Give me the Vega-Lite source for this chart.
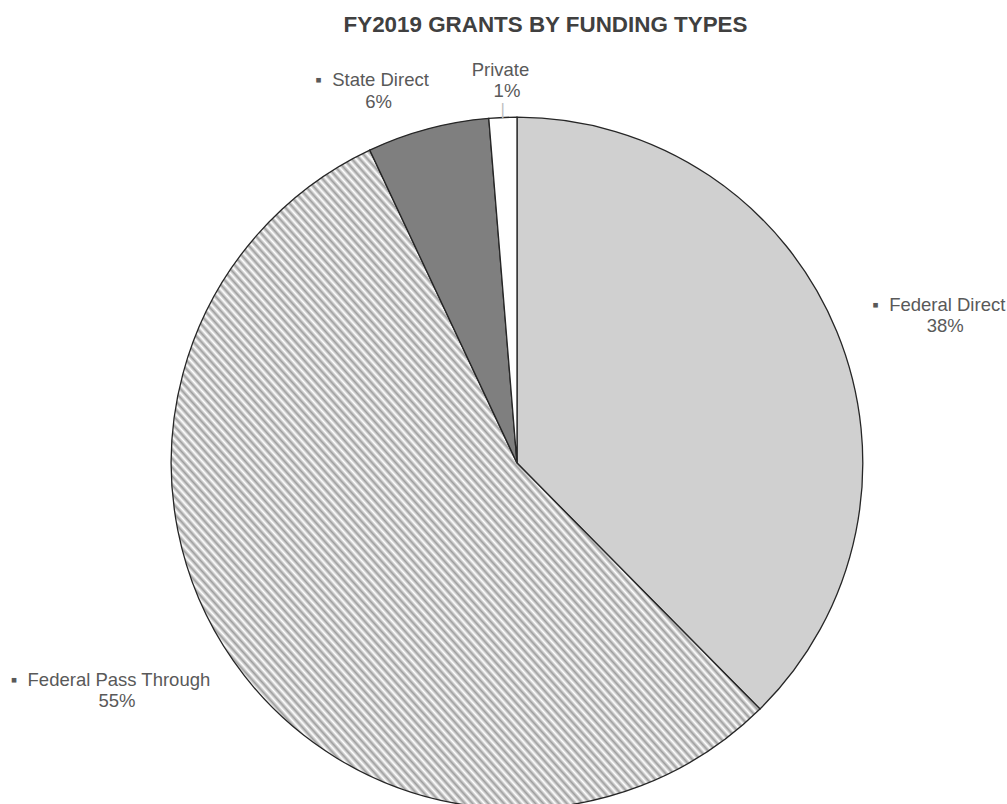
{
  "$schema": "https://vega.github.io/schema/vega-lite/v6.json",
  "width": 980,
  "height": 682,
  "autosize": {"type": "none"},
  "padding": {"left": 27, "top": 122, "right": 0, "bottom": 0},
  "background": "white",
  "config": {"view": {"stroke": null}, "font": "Liberation Sans"},
  "title": {
    "text": "FY2019 GRANTS BY FUNDING TYPES",
    "font": "Liberation Sans",
    "fontSize": 22.4,
    "fontWeight": "bold",
    "color": "#404040",
    "anchor": "middle",
    "frame": "group",
    "offset": 0,
    "baseline": "alphabetic",
    "dx": 28.5,
    "dy": -6
  },
  "data": {
    "values": [
      {"type": "Federal Direct", "value": 0.376},
      {"type": "Federal Pass Through", "value": 0.554},
      {"type": "State Direct", "value": 0.057},
      {"type": "Private", "value": 0.013}
    ]
  },
  "transform": [
    {"window": [{"op": "row_number", "as": "rank"}]},
    {"calculate": "datum.type === 'Private' ? datum.type : '▪\u00a0\u00a0' + datum.type", "as": "sym"}
  ],
  "encoding": {
    "theta": {"field": "value", "type": "quantitative", "stack": true},
    "order": {"field": "rank", "type": "quantitative", "sort": "ascending"}
  },
  "resolve": {"scale": {"theta": "independent"}},
  "layer": [
    {
      "mark": {"type": "arc", "outerRadius": 345.8, "stroke": "#262626", "strokeWidth": 1.3},
      "encoding": {
        "fill": {
          "condition": {
            "test": "datum.type === 'Federal Pass Through'",
            "value": {
              "gradient": "linear", "x1": 0, "y1": 1, "x2": 1, "y2": 0,
              "stops": [
{"offset":0,"color":"#9e9e9e"},{"offset":0.0033,"color":"#ffffff"},{"offset":0.0067,"color":"#9e9e9e"},
{"offset":0.01,"color":"#ffffff"},{"offset":0.0133,"color":"#9e9e9e"},{"offset":0.0167,"color":"#ffffff"},
{"offset":0.02,"color":"#9e9e9e"},{"offset":0.0233,"color":"#ffffff"},{"offset":0.0267,"color":"#9e9e9e"},
{"offset":0.03,"color":"#ffffff"},{"offset":0.0333,"color":"#9e9e9e"},{"offset":0.0367,"color":"#ffffff"},
{"offset":0.04,"color":"#9e9e9e"},{"offset":0.0433,"color":"#ffffff"},{"offset":0.0467,"color":"#9e9e9e"},
{"offset":0.05,"color":"#ffffff"},{"offset":0.0533,"color":"#9e9e9e"},{"offset":0.0567,"color":"#ffffff"},
{"offset":0.06,"color":"#9e9e9e"},{"offset":0.0633,"color":"#ffffff"},{"offset":0.0667,"color":"#9e9e9e"},
{"offset":0.07,"color":"#ffffff"},{"offset":0.0733,"color":"#9e9e9e"},{"offset":0.0767,"color":"#ffffff"},
{"offset":0.08,"color":"#9e9e9e"},{"offset":0.0833,"color":"#ffffff"},{"offset":0.0867,"color":"#9e9e9e"},
{"offset":0.09,"color":"#ffffff"},{"offset":0.0933,"color":"#9e9e9e"},{"offset":0.0967,"color":"#ffffff"},
{"offset":0.10,"color":"#9e9e9e"},{"offset":0.1033,"color":"#ffffff"},{"offset":0.1067,"color":"#9e9e9e"},
{"offset":0.11,"color":"#ffffff"},{"offset":0.1133,"color":"#9e9e9e"},{"offset":0.1167,"color":"#ffffff"},
{"offset":0.12,"color":"#9e9e9e"},{"offset":0.1233,"color":"#ffffff"},{"offset":0.1267,"color":"#9e9e9e"},
{"offset":0.13,"color":"#ffffff"},{"offset":0.1333,"color":"#9e9e9e"},{"offset":0.1367,"color":"#ffffff"},
{"offset":0.14,"color":"#9e9e9e"},{"offset":0.1433,"color":"#ffffff"},{"offset":0.1467,"color":"#9e9e9e"},
{"offset":0.15,"color":"#ffffff"},{"offset":0.1533,"color":"#9e9e9e"},{"offset":0.1567,"color":"#ffffff"},
{"offset":0.16,"color":"#9e9e9e"},{"offset":0.1633,"color":"#ffffff"},{"offset":0.1667,"color":"#9e9e9e"},
{"offset":0.17,"color":"#ffffff"},{"offset":0.1733,"color":"#9e9e9e"},{"offset":0.1767,"color":"#ffffff"},
{"offset":0.18,"color":"#9e9e9e"},{"offset":0.1833,"color":"#ffffff"},{"offset":0.1867,"color":"#9e9e9e"},
{"offset":0.19,"color":"#ffffff"},{"offset":0.1933,"color":"#9e9e9e"},{"offset":0.1967,"color":"#ffffff"},
{"offset":0.20,"color":"#9e9e9e"},{"offset":0.2033,"color":"#ffffff"},{"offset":0.2067,"color":"#9e9e9e"},
{"offset":0.21,"color":"#ffffff"},{"offset":0.2133,"color":"#9e9e9e"},{"offset":0.2167,"color":"#ffffff"},
{"offset":0.22,"color":"#9e9e9e"},{"offset":0.2233,"color":"#ffffff"},{"offset":0.2267,"color":"#9e9e9e"},
{"offset":0.23,"color":"#ffffff"},{"offset":0.2333,"color":"#9e9e9e"},{"offset":0.2367,"color":"#ffffff"},
{"offset":0.24,"color":"#9e9e9e"},{"offset":0.2433,"color":"#ffffff"},{"offset":0.2467,"color":"#9e9e9e"},
{"offset":0.25,"color":"#ffffff"},{"offset":0.2533,"color":"#9e9e9e"},{"offset":0.2567,"color":"#ffffff"},
{"offset":0.26,"color":"#9e9e9e"},{"offset":0.2633,"color":"#ffffff"},{"offset":0.2667,"color":"#9e9e9e"},
{"offset":0.27,"color":"#ffffff"},{"offset":0.2733,"color":"#9e9e9e"},{"offset":0.2767,"color":"#ffffff"},
{"offset":0.28,"color":"#9e9e9e"},{"offset":0.2833,"color":"#ffffff"},{"offset":0.2867,"color":"#9e9e9e"},
{"offset":0.29,"color":"#ffffff"},{"offset":0.2933,"color":"#9e9e9e"},{"offset":0.2967,"color":"#ffffff"},
{"offset":0.30,"color":"#9e9e9e"},{"offset":0.3033,"color":"#ffffff"},{"offset":0.3067,"color":"#9e9e9e"},
{"offset":0.31,"color":"#ffffff"},{"offset":0.3133,"color":"#9e9e9e"},{"offset":0.3167,"color":"#ffffff"},
{"offset":0.32,"color":"#9e9e9e"},{"offset":0.3233,"color":"#ffffff"},{"offset":0.3267,"color":"#9e9e9e"},
{"offset":0.33,"color":"#ffffff"},{"offset":0.3333,"color":"#9e9e9e"},{"offset":0.3367,"color":"#ffffff"},
{"offset":0.34,"color":"#9e9e9e"},{"offset":0.3433,"color":"#ffffff"},{"offset":0.3467,"color":"#9e9e9e"},
{"offset":0.35,"color":"#ffffff"},{"offset":0.3533,"color":"#9e9e9e"},{"offset":0.3567,"color":"#ffffff"},
{"offset":0.36,"color":"#9e9e9e"},{"offset":0.3633,"color":"#ffffff"},{"offset":0.3667,"color":"#9e9e9e"},
{"offset":0.37,"color":"#ffffff"},{"offset":0.3733,"color":"#9e9e9e"},{"offset":0.3767,"color":"#ffffff"},
{"offset":0.38,"color":"#9e9e9e"},{"offset":0.3833,"color":"#ffffff"},{"offset":0.3867,"color":"#9e9e9e"},
{"offset":0.39,"color":"#ffffff"},{"offset":0.3933,"color":"#9e9e9e"},{"offset":0.3967,"color":"#ffffff"},
{"offset":0.40,"color":"#9e9e9e"},{"offset":0.4033,"color":"#ffffff"},{"offset":0.4067,"color":"#9e9e9e"},
{"offset":0.41,"color":"#ffffff"},{"offset":0.4133,"color":"#9e9e9e"},{"offset":0.4167,"color":"#ffffff"},
{"offset":0.42,"color":"#9e9e9e"},{"offset":0.4233,"color":"#ffffff"},{"offset":0.4267,"color":"#9e9e9e"},
{"offset":0.43,"color":"#ffffff"},{"offset":0.4333,"color":"#9e9e9e"},{"offset":0.4367,"color":"#ffffff"},
{"offset":0.44,"color":"#9e9e9e"},{"offset":0.4433,"color":"#ffffff"},{"offset":0.4467,"color":"#9e9e9e"},
{"offset":0.45,"color":"#ffffff"},{"offset":0.4533,"color":"#9e9e9e"},{"offset":0.4567,"color":"#ffffff"},
{"offset":0.46,"color":"#9e9e9e"},{"offset":0.4633,"color":"#ffffff"},{"offset":0.4667,"color":"#9e9e9e"},
{"offset":0.47,"color":"#ffffff"},{"offset":0.4733,"color":"#9e9e9e"},{"offset":0.4767,"color":"#ffffff"},
{"offset":0.48,"color":"#9e9e9e"},{"offset":0.4833,"color":"#ffffff"},{"offset":0.4867,"color":"#9e9e9e"},
{"offset":0.49,"color":"#ffffff"},{"offset":0.4933,"color":"#9e9e9e"},{"offset":0.4967,"color":"#ffffff"},
{"offset":0.50,"color":"#9e9e9e"},{"offset":0.5033,"color":"#ffffff"},{"offset":0.5067,"color":"#9e9e9e"},
{"offset":0.51,"color":"#ffffff"},{"offset":0.5133,"color":"#9e9e9e"},{"offset":0.5167,"color":"#ffffff"},
{"offset":0.52,"color":"#9e9e9e"},{"offset":0.5233,"color":"#ffffff"},{"offset":0.5267,"color":"#9e9e9e"},
{"offset":0.53,"color":"#ffffff"},{"offset":0.5333,"color":"#9e9e9e"},{"offset":0.5367,"color":"#ffffff"},
{"offset":0.54,"color":"#9e9e9e"},{"offset":0.5433,"color":"#ffffff"},{"offset":0.5467,"color":"#9e9e9e"},
{"offset":0.55,"color":"#ffffff"},{"offset":0.5533,"color":"#9e9e9e"},{"offset":0.5567,"color":"#ffffff"},
{"offset":0.56,"color":"#9e9e9e"},{"offset":0.5633,"color":"#ffffff"},{"offset":0.5667,"color":"#9e9e9e"},
{"offset":0.57,"color":"#ffffff"},{"offset":0.5733,"color":"#9e9e9e"},{"offset":0.5767,"color":"#ffffff"},
{"offset":0.58,"color":"#9e9e9e"},{"offset":0.5833,"color":"#ffffff"},{"offset":0.5867,"color":"#9e9e9e"},
{"offset":0.59,"color":"#ffffff"},{"offset":0.5933,"color":"#9e9e9e"},{"offset":0.5967,"color":"#ffffff"},
{"offset":0.60,"color":"#9e9e9e"},{"offset":0.6033,"color":"#ffffff"},{"offset":0.6067,"color":"#9e9e9e"},
{"offset":0.61,"color":"#ffffff"},{"offset":0.6133,"color":"#9e9e9e"},{"offset":0.6167,"color":"#ffffff"},
{"offset":0.62,"color":"#9e9e9e"},{"offset":0.6233,"color":"#ffffff"},{"offset":0.6267,"color":"#9e9e9e"},
{"offset":0.63,"color":"#ffffff"},{"offset":0.6333,"color":"#9e9e9e"},{"offset":0.6367,"color":"#ffffff"},
{"offset":0.64,"color":"#9e9e9e"},{"offset":0.6433,"color":"#ffffff"},{"offset":0.6467,"color":"#9e9e9e"},
{"offset":0.65,"color":"#ffffff"},{"offset":0.6533,"color":"#9e9e9e"},{"offset":0.6567,"color":"#ffffff"},
{"offset":0.66,"color":"#9e9e9e"},{"offset":0.6633,"color":"#ffffff"},{"offset":0.6667,"color":"#9e9e9e"},
{"offset":0.67,"color":"#ffffff"},{"offset":0.6733,"color":"#9e9e9e"},{"offset":0.6767,"color":"#ffffff"},
{"offset":0.68,"color":"#9e9e9e"},{"offset":0.6833,"color":"#ffffff"},{"offset":0.6867,"color":"#9e9e9e"},
{"offset":0.69,"color":"#ffffff"},{"offset":0.6933,"color":"#9e9e9e"},{"offset":0.6967,"color":"#ffffff"},
{"offset":0.70,"color":"#9e9e9e"},{"offset":0.7033,"color":"#ffffff"},{"offset":0.7067,"color":"#9e9e9e"},
{"offset":0.71,"color":"#ffffff"},{"offset":0.7133,"color":"#9e9e9e"},{"offset":0.7167,"color":"#ffffff"},
{"offset":0.72,"color":"#9e9e9e"},{"offset":0.7233,"color":"#ffffff"},{"offset":0.7267,"color":"#9e9e9e"},
{"offset":0.73,"color":"#ffffff"},{"offset":0.7333,"color":"#9e9e9e"},{"offset":0.7367,"color":"#ffffff"},
{"offset":0.74,"color":"#9e9e9e"},{"offset":0.7433,"color":"#ffffff"},{"offset":0.7467,"color":"#9e9e9e"},
{"offset":0.75,"color":"#ffffff"},{"offset":0.7533,"color":"#9e9e9e"},{"offset":0.7567,"color":"#ffffff"},
{"offset":0.76,"color":"#9e9e9e"},{"offset":0.7633,"color":"#ffffff"},{"offset":0.7667,"color":"#9e9e9e"},
{"offset":0.77,"color":"#ffffff"},{"offset":0.7733,"color":"#9e9e9e"},{"offset":0.7767,"color":"#ffffff"},
{"offset":0.78,"color":"#9e9e9e"},{"offset":0.7833,"color":"#ffffff"},{"offset":0.7867,"color":"#9e9e9e"},
{"offset":0.79,"color":"#ffffff"},{"offset":0.7933,"color":"#9e9e9e"},{"offset":0.7967,"color":"#ffffff"},
{"offset":0.80,"color":"#9e9e9e"},{"offset":0.8033,"color":"#ffffff"},{"offset":0.8067,"color":"#9e9e9e"},
{"offset":0.81,"color":"#ffffff"},{"offset":0.8133,"color":"#9e9e9e"},{"offset":0.8167,"color":"#ffffff"},
{"offset":0.82,"color":"#9e9e9e"},{"offset":0.8233,"color":"#ffffff"},{"offset":0.8267,"color":"#9e9e9e"},
{"offset":0.83,"color":"#ffffff"},{"offset":0.8333,"color":"#9e9e9e"},{"offset":0.8367,"color":"#ffffff"},
{"offset":0.84,"color":"#9e9e9e"},{"offset":0.8433,"color":"#ffffff"},{"offset":0.8467,"color":"#9e9e9e"},
{"offset":0.85,"color":"#ffffff"},{"offset":0.8533,"color":"#9e9e9e"},{"offset":0.8567,"color":"#ffffff"},
{"offset":0.86,"color":"#9e9e9e"},{"offset":0.8633,"color":"#ffffff"},{"offset":0.8667,"color":"#9e9e9e"},
{"offset":0.87,"color":"#ffffff"},{"offset":0.8733,"color":"#9e9e9e"},{"offset":0.8767,"color":"#ffffff"},
{"offset":0.88,"color":"#9e9e9e"},{"offset":0.8833,"color":"#ffffff"},{"offset":0.8867,"color":"#9e9e9e"},
{"offset":0.89,"color":"#ffffff"},{"offset":0.8933,"color":"#9e9e9e"},{"offset":0.8967,"color":"#ffffff"},
{"offset":0.90,"color":"#9e9e9e"},{"offset":0.9033,"color":"#ffffff"},{"offset":0.9067,"color":"#9e9e9e"},
{"offset":0.91,"color":"#ffffff"},{"offset":0.9133,"color":"#9e9e9e"},{"offset":0.9167,"color":"#ffffff"},
{"offset":0.92,"color":"#9e9e9e"},{"offset":0.9233,"color":"#ffffff"},{"offset":0.9267,"color":"#9e9e9e"},
{"offset":0.93,"color":"#ffffff"},{"offset":0.9333,"color":"#9e9e9e"},{"offset":0.9367,"color":"#ffffff"},
{"offset":0.94,"color":"#9e9e9e"},{"offset":0.9433,"color":"#ffffff"},{"offset":0.9467,"color":"#9e9e9e"},
{"offset":0.95,"color":"#ffffff"},{"offset":0.9533,"color":"#9e9e9e"},{"offset":0.9567,"color":"#ffffff"},
{"offset":0.96,"color":"#9e9e9e"},{"offset":0.9633,"color":"#ffffff"},{"offset":0.9667,"color":"#9e9e9e"},
{"offset":0.97,"color":"#ffffff"},{"offset":0.9733,"color":"#9e9e9e"},{"offset":0.9767,"color":"#ffffff"},
{"offset":0.98,"color":"#9e9e9e"},{"offset":0.9833,"color":"#ffffff"},{"offset":0.9867,"color":"#9e9e9e"},
{"offset":0.99,"color":"#ffffff"},{"offset":0.9933,"color":"#9e9e9e"},{"offset":0.9967,"color":"#ffffff"},
{"offset":1,"color":"#9e9e9e"}
              ]
            }
          },
          "field": "type",
          "type": "nominal",
          "scale": {
            "domain": ["Federal Direct", "Federal Pass Through", "State Direct", "Private"],
            "range": ["#d0d0d0", "#b4b4b4", "#7f7f7f", "#ffffff"]
          },
          "legend": null
        }
      }
    },
    {
      "mark": {"type": "text", "fontSize": 17, "radius": 353, "fill": "#bfbfbf"},
      "encoding": {
        "text": {"condition": {"test": "datum.type === 'Private'", "value": "|"}, "value": ""}
      }
    },
    {
      "encoding": {
        "theta": {"field": "value", "type": "quantitative", "stack": true,
          "scale": {"type": "linear", "zero": false, "domain": [0, 0.188, 0.653, 0.9585, 0.9935, 1], "range": [0, 1.239, 4.196, 5.927, 6.257, 6.2832]}},
        "radius": {"field": "value", "type": "quantitative",
          "scale": {"type": "linear", "zero": false, "domain": [0.013, 0.057, 0.376, 0.554], "range": [383, 397, 453, 460]}}
      },
      "layer": [
        {
          "mark": {"type": "text", "fontSize": 18.5, "dx": -6.5, "dy": -10.5, "fill": "#595959"},
          "encoding": {"text": {"field": "sym"}}
        },
        {
          "mark": {"type": "text", "fontSize": 18.5, "dy": 11, "fill": "#595959"},
          "encoding": {"text": {"field": "value", "type": "quantitative", "format": ".0%"}}
        }
      ]
    }
  ]
}
